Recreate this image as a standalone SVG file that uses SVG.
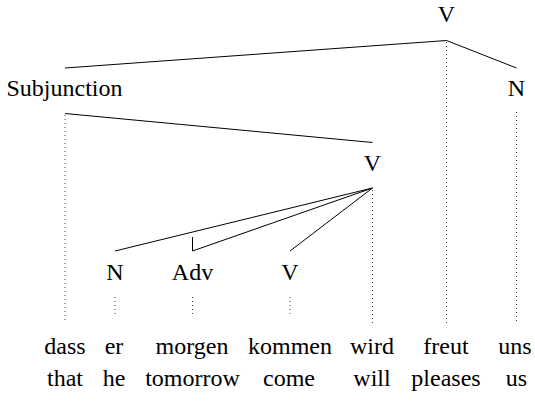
<svg xmlns="http://www.w3.org/2000/svg" width="535" height="401" viewBox="0 0 535 401" font-family="Liberation Serif, Times New Roman, serif" font-size="24">
<style>
text{fill:#000;text-anchor:middle}
.e{stroke:#000;stroke-width:1;fill:none}
.d{stroke:#444;stroke-width:1;stroke-dasharray:1 3;fill:none}
</style>
<rect width="535" height="401" fill="#fff"/>
<g id="connectors">
<path class="e" d="M65,68 L446.5,40.5 L516.5,68"/>
<path class="e" d="M65,113.5 L372.5,142.5"/>
<path class="e" d="M115,251 L372.5,188 M192.5,237 L192.5,251 L372.5,188 M290,251 L372.5,188"/>
<path class="d" d="M446.5,42 V323 M65,115 V323 M516.5,112 V323 M372.5,190 V323 M115,297 V316 M192.5,297 V316 M290,297 V316"/>
</g>
<g id="n_V_top"><text x="446.5" y="22">V</text></g>
<g id="n_Subjunction"><text x="64.5" y="96">Subjunction</text></g>
<g id="n_N_right"><text x="516.5" y="96">N</text></g>
<g id="n_V_mid"><text x="372.5" y="171">V</text></g>
<g id="n_N"><text x="115" y="280">N</text></g>
<g id="n_Adv"><text x="192.5" y="280">Adv</text></g>
<g id="n_V_low"><text x="290" y="280">V</text></g>
<g id="words">
<text x="65" y="354">dass</text>
<text x="114" y="354">er</text>
<text x="192" y="354">morgen</text>
<text x="290" y="354">kommen</text>
<text x="372" y="354">wird</text>
<text x="446" y="354">freut</text>
<text x="515" y="354">uns</text>
</g>
<g id="gloss">
<text x="65" y="386">that</text>
<text x="114" y="386">he</text>
<text x="192.5" y="386">tomorrow</text>
<text x="289" y="386">come</text>
<text x="372" y="386">will</text>
<text x="446" y="386">pleases</text>
<text x="516.5" y="386">us</text>
</g>
</svg>
